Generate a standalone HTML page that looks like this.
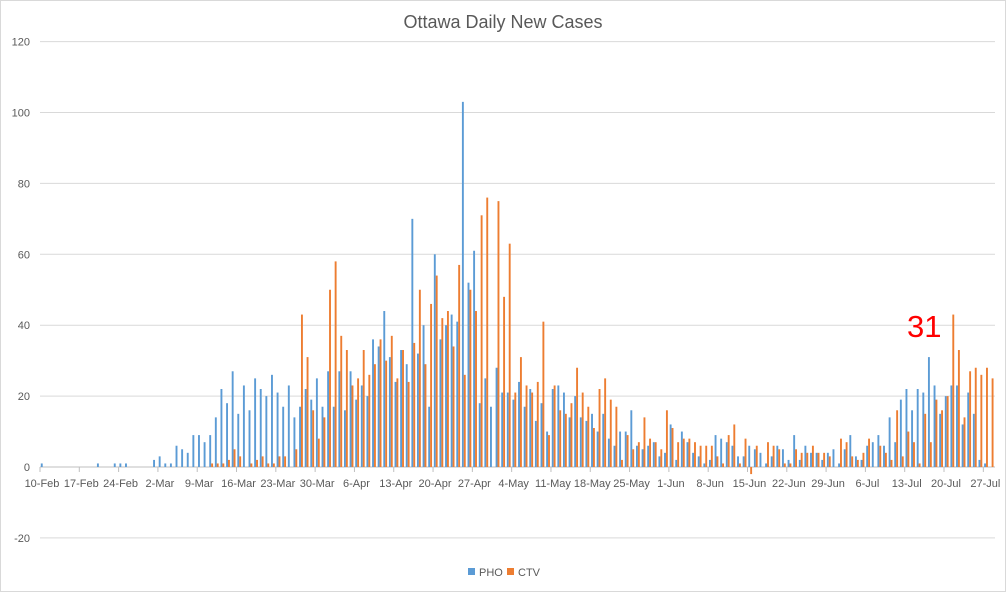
<!DOCTYPE html>
<html><head><meta charset="utf-8"><style>
html,body{margin:0;padding:0;background:#fff;}
svg{display:block;font-family:"Liberation Sans",Calibri,sans-serif;}
</style></head><body>
<svg id="c" width="1006" height="592" viewBox="0 0 1006 592" xmlns="http://www.w3.org/2000/svg">
<rect x="0.5" y="0.5" width="1005" height="591" fill="#fff" stroke="#d9d9d9"/>
<text x="503" y="28" text-anchor="middle" font-size="18" fill="#595959">Ottawa Daily New Cases</text>
<g id="grid"></g>
<g id="bars"></g>
<text x="907" y="337" font-size="31" fill="#ff0000">31</text>
<rect x="468" y="568" width="7" height="7" fill="#5b9bd5"/>
<text x="479" y="576" font-size="11" fill="#595959">PHO</text>
<rect x="507" y="568" width="7" height="7" fill="#ed7d31"/>
<text x="518" y="576" font-size="11" fill="#595959">CTV</text>
</svg>
<script>
var P={0:1,10:1,13:1,14:1,15:1,20:2,21:3,22:1,23:1,24:6,25:5,26:4,27:9,28:9,29:7,30:9,31:14,32:22,33:18,34:27,35:15,36:23,37:16,38:25,39:22,40:20,41:26,42:21,43:17,44:23,45:14,46:17,47:22,48:19,49:25,50:17,51:27,52:17,53:27,54:16,55:27,56:19,57:23,58:20,59:36,60:34,61:44,62:31,63:24,64:33,65:29,66:70,67:32,68:40,69:17,70:60,71:36,72:40,73:43,74:41,75:103,76:52,77:61,78:18,79:25,80:17,81:28,82:21,83:21,84:19,85:24,86:17,87:22,88:13,89:18,90:10,91:22,92:23,93:21,94:14,95:20,96:14,97:13,98:15,99:10,100:15,101:8,102:6,103:10,104:10,105:16,106:6,107:5,108:6,109:7,110:3,111:4,112:12,113:2,114:10,115:7,116:4,117:3,118:1,119:2,120:9,121:8,122:7,123:6,124:3,125:3,126:6,127:5,128:4,129:1,130:3,131:6,132:5,133:2,134:9,135:2,136:6,137:4,138:4,139:2,140:4,141:5,142:1,143:5,144:9,145:3,146:2,147:6,148:7,149:9,150:6,151:14,152:7,153:19,154:22,155:16,156:22,157:21,158:31,159:23,160:15,161:20,162:23,163:23,164:12,165:21,166:15,167:2,168:1};
var C={30:1,31:1,32:1,33:2,34:5,35:3,37:1,38:2,39:3,40:1,41:1,42:3,43:3,45:5,46:43,47:31,48:16,49:8,50:14,51:50,52:58,53:37,54:33,55:23,56:25,57:33,58:26,59:29,60:36,61:30,62:37,63:25,64:33,65:24,66:35,67:50,68:29,69:46,70:54,71:42,72:44,73:34,74:57,75:26,76:50,77:44,78:71,79:76,81:75,82:48,83:63,84:21,85:31,86:23,87:21,88:24,89:41,90:9,91:23,92:16,93:15,94:18,95:28,96:21,97:17,98:11,99:22,100:25,101:19,102:17,103:2,104:9,105:5,106:7,107:14,108:8,109:7,110:5,111:16,112:11,113:7,114:8,115:8,116:7,117:6,118:6,119:6,120:3,121:1,122:9,123:12,124:1,125:8,126:-2,127:6,129:7,130:6,131:5,132:1,133:1,134:5,135:4,136:4,137:6,138:4,139:4,140:3,142:8,143:7,144:3,145:2,146:4,147:8,149:6,150:4,151:2,152:16,153:3,154:10,155:7,156:1,157:15,158:7,159:19,160:16,161:20,162:43,163:33,164:14,165:27,166:28,167:26,168:28,169:25};
var NS="http://www.w3.org/2000/svg",Z=467,U=3.545,W=5.615,X0=40;
function el(t,a,p,txt){var e=document.createElementNS(NS,t);for(var k in a)e.setAttribute(k,a[k]);if(txt!=null)e.textContent=txt;p.appendChild(e);return e;}
var g=document.getElementById('grid'),b=document.getElementById('bars');
for(var v=-20;v<=120;v+=20){var y=Z-v*U;if(v!=0)el('line',{x1:X0,x2:995,y1:y,y2:y,stroke:'#d9d9d9','stroke-width':1},g);el('text',{x:30,y:y+4,'text-anchor':'end','font-size':11,fill:'#595959'},g,v);}
el('line',{x1:X0,x2:995,y1:Z,y2:Z,stroke:'#bfbfbf','stroke-width':1},g);
var labs=['10-Feb','17-Feb','24-Feb','2-Mar','9-Mar','16-Mar','23-Mar','30-Mar','6-Apr','13-Apr','20-Apr','27-Apr','4-May','11-May','18-May','25-May','1-Jun','8-Jun','15-Jun','22-Jun','29-Jun','6-Jul','13-Jul','20-Jul','27-Jul'];
for(var i=0;i<labs.length;i++){var x=X0+i*7*W;el('line',{x1:x,x2:x,y1:Z,y2:Z+5,stroke:'#bfbfbf'},g);el('text',{x:x+2,y:Z+20,'text-anchor':'middle','font-size':11,fill:'#595959'},g,labs[i]);}
function bar(d,v,off,col){var x=X0+d*W+off,h=v*U;el('rect',{x:x,y:v>=0?Z-h:Z,width:1.9,height:Math.abs(h),fill:col},b);}
for(var d in P)bar(+d,P[d],0.8,'#5b9bd5');
for(var d in C)bar(+d,C[d],2.7,'#ed7d31');
</script>
</body></html>
